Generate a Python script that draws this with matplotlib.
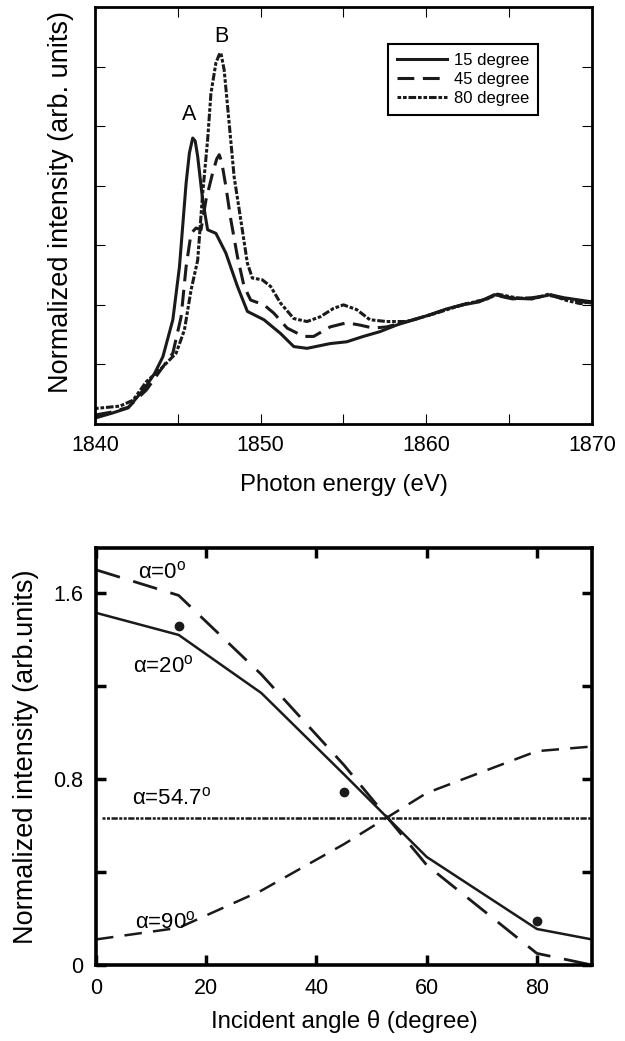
import matplotlib
matplotlib.use("Agg")
import matplotlib.pyplot as plt

plt.rcParams['font.family'] = ['Liberation Sans', 'DejaVu Sans']
plt.rcParams['mathtext.fontset'] = 'custom'
plt.rcParams['mathtext.rm'] = 'Liberation Sans'
plt.rcParams['mathtext.it'] = 'Liberation Sans:italic'

# ---------------- Top panel data (Photon energy vs intensity) ----------------
e15 = [1840, 1841, 1842, 1843, 1843.6, 1844.1, 1844.7, 1845.1, 1845.5, 1845.7, 1845.9,
       1846.05, 1846.2, 1846.5, 1846.8, 1847.3, 1847.9, 1848.6, 1849.2, 1850.2, 1851.2,
       1852.0, 1852.8, 1854.2, 1855.2, 1856.2, 1857.2, 1858.2, 1859.2, 1860.2, 1861.2,
       1862.2, 1863.2, 1864.1, 1865.3, 1866.3, 1867.5, 1868.3, 1870]
i15 = [0.10, 0.18, 0.27, 0.60, 0.85, 1.13, 1.75, 2.64, 4.04, 4.55, 4.80,
       4.75, 4.49, 3.76, 3.26, 3.20, 2.87, 2.31, 1.89, 1.75, 1.52,
       1.30, 1.27, 1.35, 1.38, 1.47, 1.55, 1.66, 1.75, 1.83, 1.93,
       2.00, 2.05, 2.17, 2.11, 2.10, 2.17, 2.12, 2.05]

e45 = [1840, 1841, 1842, 1843.1, 1844.1, 1844.7, 1845.2, 1845.5, 1845.8, 1846.1, 1846.4,
       1846.7, 1847.1, 1847.35, 1847.5, 1847.65, 1847.9, 1848.2, 1848.6, 1849.0, 1849.4,
       1850.2, 1850.8, 1851.6, 1852.6, 1853.2, 1854.2, 1855.2, 1856.0, 1856.8, 1857.6,
       1858.6, 1859.4, 1860.4, 1861.4, 1862.4, 1863.4, 1864.2, 1865.2, 1866.4, 1867.4,
       1868.4, 1869.2, 1870]
i45 = [0.15, 0.20, 0.28, 0.57, 0.96, 1.19, 1.80, 2.64, 3.20, 3.29, 3.26,
       3.76, 4.21, 4.45, 4.52, 4.40, 3.99, 3.43, 2.81, 2.31, 2.08,
       2.00, 1.86, 1.61, 1.47, 1.47, 1.63, 1.70, 1.66, 1.61, 1.63,
       1.70, 1.76, 1.85, 1.94, 2.02, 2.08, 2.16, 2.10, 2.12, 2.16,
       2.10, 2.06, 2.03]

e80 = [1840, 1841.5, 1842.3, 1843.1, 1844.1, 1844.9, 1845.4, 1845.8, 1846.2, 1846.5,
       1846.8, 1847.0, 1847.3, 1847.5, 1847.6, 1847.8, 1848.1, 1848.4, 1848.8, 1849.2,
       1849.5, 1850.1, 1850.6, 1851.2, 1852.0, 1852.8, 1853.6, 1854.4, 1855.0, 1855.8,
       1856.6, 1857.6, 1858.8, 1859.6, 1860.6, 1861.6, 1862.6, 1863.6, 1864.3, 1865.4,
       1866.4, 1867.4, 1868.4, 1869.3, 1870]
i80 = [0.26, 0.30, 0.40, 0.71, 0.96, 1.19, 1.58, 2.25, 2.75, 3.87,
       4.77, 5.55, 6.06, 6.20, 6.23, 5.94, 5.05, 4.15, 3.43, 2.70,
       2.45, 2.42, 2.31, 2.03, 1.77, 1.72, 1.80, 1.94, 2.00, 1.92,
       1.75, 1.72, 1.72, 1.78, 1.86, 1.95, 2.03, 2.09, 2.18, 2.12,
       2.10, 2.18, 2.08, 2.02, 2.06]

top_labels = ['15 degree', '45 degree', '80 degree']

# ---------------- Bottom panel data (incident angle) ----------------
theta = [0, 15, 30, 45, 60, 80, 90]
alpha0 = [1.70, 1.59, 1.25, 0.86, 0.43, 0.05, 0.0]
alpha20 = [1.515, 1.42, 1.17, 0.82, 0.465, 0.155, 0.11]
alpha90 = [0.11, 0.16, 0.32, 0.52, 0.74, 0.92, 0.94]
alpha547_x = [1, 90]
alpha547_y = [0.631, 0.631]
meas_theta = [15, 45, 80]
meas_int = [1.459, 0.743, 0.19]

fig = plt.figure(figsize=(6.25, 10.41), dpi=100)

# ---------------- Top panel ----------------
ax1 = fig.add_axes([0.152, 0.5927, 0.795, 0.4006])
ax1.plot(e15, i15, color='#1a1a1a', lw=2.2, ls='-', label=top_labels[0])
ax1.plot(e45, i45, color='#1a1a1a', lw=2.2, ls=(0, (5.5, 2.8)), label=top_labels[1])
ax1.plot(e80, i80, color='#1a1a1a', lw=2.2, ls=(0, (1.2, 0.6, 1.2, 0.6, 2.5, 0.6)), label=top_labels[2])
ax1.set_xlim(1840, 1870)
ax1.set_ylim(0, 7)
ax1.set_xticks([1840, 1850, 1860, 1870])
ax1.set_xticks([1845, 1855, 1865], minor=True)
ax1.set_yticks([1, 2, 3, 4, 5, 6])
ax1.set_yticklabels([])
ax1.tick_params(axis='both', which='both', direction='in', top=True, right=True,
                length=7, width=0.8, labelsize=15.5, pad=8)
for s in ax1.spines.values():
    s.set_linewidth(2.0)
ax1.set_xlabel('Photon energy (eV)', fontsize=17.25)
ax1.xaxis.set_label_coords(0.5, -0.12)
ax1.set_ylabel('Normalized intensity (arb. units)', fontsize=19.5)
ax1.yaxis.set_label_coords(-0.042, 0.532)
ax1.text(1845.7, 5.19, 'A', fontsize=15.5, ha='center', va='center')
ax1.text(1847.6, 6.5, 'B', fontsize=15.5, ha='center', va='center')
leg = ax1.legend(loc='upper left', bbox_to_anchor=(0.59, 0.911), borderaxespad=0,
                 fontsize=12, handlelength=3.0, handletextpad=0.4, labelspacing=0.22,
                 fancybox=False, framealpha=1, edgecolor='black', borderpad=0.55)
leg.get_frame().set_linewidth(1.5)

# ---------------- Bottom panel ----------------
ax2 = fig.add_axes([0.1536, 0.073, 0.7936, 0.4006])
ax2.plot(theta, alpha0, color='#1a1a1a', lw=2.0, ls=(0, (9, 5)))
ax2.plot(theta, alpha20, color='#1a1a1a', lw=1.8, ls='-')
ax2.plot(theta, alpha90, color='#1a1a1a', lw=1.8, ls=(0, (7, 4.5)))
ax2.plot(alpha547_x, alpha547_y, color='#1a1a1a', lw=1.8,
         ls=(0, (1.2, 0.6, 1.2, 0.6, 2.5, 0.6)))
ax2.plot(meas_theta, meas_int, 'o', color='#1a1a1a', ms=6)
ax2.set_xlim(0, 90)
ax2.set_ylim(0, 1.794)
ax2.set_xticks([0, 20, 40, 60, 80])
ax2.set_yticks([0, 0.4, 0.8, 1.2, 1.6])
ax2.set_yticklabels(['0', '', '0.8', '', '1.6'])
ax2.tick_params(axis='both', which='both', direction='in', top=True, right=True,
                length=7, width=2.5, labelsize=15.5, pad=9)
for s in ax2.spines.values():
    s.set_linewidth(2.6)
ax2.set_xlabel('Incident angle θ (degree)', fontsize=17.25)
ax2.xaxis.set_label_coords(0.5, -0.108)
ax2.set_ylabel('Normalized intensity (arb.units)', fontsize=19.5)
ax2.yaxis.set_label_coords(-0.115, 0.5)

lab_fs = 16
ax2.text(7.7, 1.69, 'α=0$^{\\rm o}$', fontsize=lab_fs, ha='left', va='center')
ax2.text(6.8, 1.283, 'α=20$^{\\rm o}$', fontsize=lab_fs, ha='left', va='center')
ax2.text(6.5, 0.717, 'α=54.7$^{\\rm o}$', fontsize=lab_fs, ha='left', va='center')
ax2.text(7.1, 0.185, 'α=90$^{\\rm o}$', fontsize=lab_fs, ha='left', va='center')

fig.savefig('out.png', dpi=100)
